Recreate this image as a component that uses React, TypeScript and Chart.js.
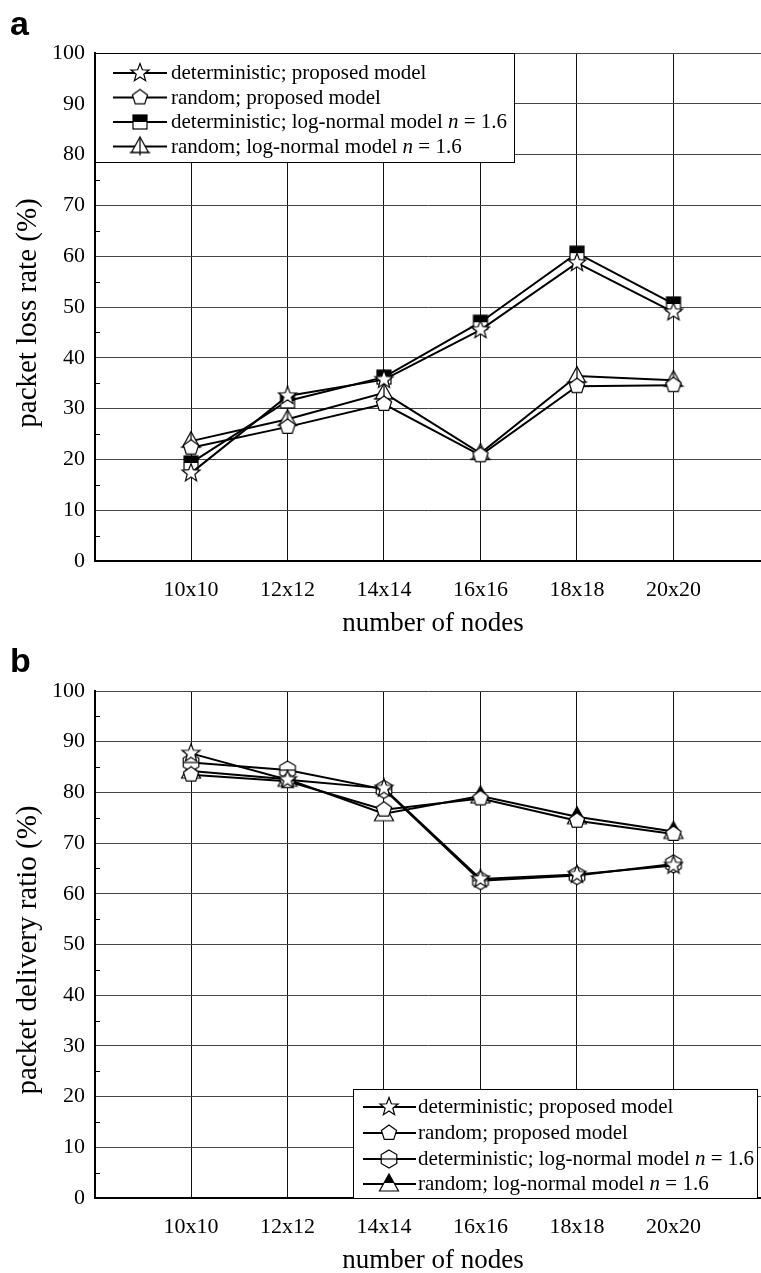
import React, { useEffect, useRef } from 'react';
import { Chart, registerables } from 'chart.js';

Chart.register(...registerables);

// ---------- data ----------
const categories = ['10x10', '12x12', '14x14', '16x16', '18x18', '20x20'];

// panel a: packet loss rate (%)
const lossDetProposed = [17.3, 32.5, 35.7, 45.5, 58.7, 49.0];
const lossRandProposed = [22.3, 26.4, 30.9, 20.8, 34.4, 34.6];
const lossDetLogNormal = [19.3, 31.5, 36.2, 47.0, 60.6, 50.6];
const lossRandLogNormal = [23.6, 27.9, 33.1, 21.2, 36.4, 35.6];

// panel b: packet delivery ratio (%)
const pdrDetProposed = [87.7, 82.5, 80.8, 62.9, 63.8, 65.6];
const pdrRandProposed = [83.5, 82.2, 76.6, 78.8, 74.4, 71.8];
const pdrDetLogNormal = [85.9, 84.4, 80.6, 62.6, 63.6, 65.9];
const pdrRandLogNormal = [84.2, 82.6, 75.8, 79.3, 75.2, 72.3];

const labelsA = [
  'deterministic; proposed model',
  'random; proposed model',
  'deterministic; log-normal model n = 1.6',
  'random; log-normal model n = 1.6',
];
const labelsB = [
  'deterministic; proposed model',
  'random; proposed model',
  'deterministic; log-normal model n = 1.6',
  'random; log-normal model n = 1.6',
];

const xTitle = 'number of nodes';
const yTitleA = 'packet loss rate (%)';
const yTitleB = 'packet delivery ratio (%)';

const SERIF = '"Liberation Serif", "Times New Roman", serif';

// ---------- markers ----------
type Draw = (ctx: CanvasRenderingContext2D) => void;
function mk(size: number, draw: Draw): HTMLCanvasElement {
  const c = document.createElement('canvas');
  c.width = size;
  c.height = size;
  const ctx = c.getContext('2d') as CanvasRenderingContext2D;
  ctx.translate(size / 2, size / 2);
  ctx.lineWidth = 1.2;
  ctx.strokeStyle = '#000';
  draw(ctx);
  return c;
}
function poly(ctx: CanvasRenderingContext2D, n: number, r: number, inner?: number) {
  ctx.beginPath();
  const count = inner ? n * 2 : n;
  for (let i = 0; i < count; i++) {
    const rr = inner ? (i % 2 ? inner : r) : r;
    const a = -Math.PI / 2 + (i * 2 * Math.PI) / count;
    const x = rr * Math.cos(a);
    const y = rr * Math.sin(a);
    if (i === 0) ctx.moveTo(x, y);
    else ctx.lineTo(x, y);
  }
  ctx.closePath();
}
function makeMarkers() {
  const star = mk(22, (ctx) => {
    poly(ctx, 5, 9.5, 4);
    ctx.fillStyle = '#fff';
    ctx.fill();
    ctx.stroke();
  });
  const pentagon = mk(22, (ctx) => {
    poly(ctx, 5, 8);
    ctx.fillStyle = '#fff';
    ctx.fill();
    ctx.stroke();
  });
  const halfSquare = mk(22, (ctx) => {
    ctx.fillStyle = '#fff';
    ctx.fillRect(-7, -7, 14, 14);
    ctx.fillStyle = '#000';
    ctx.fillRect(-7, -7, 14, 7);
    ctx.strokeRect(-7, -7, 14, 14);
  });
  const openTriangle = mk(24, (ctx) => {
    ctx.beginPath();
    ctx.moveTo(0, -9.5);
    ctx.lineTo(8.5, 6);
    ctx.lineTo(-8.5, 6);
    ctx.closePath();
    ctx.fillStyle = '#fff';
    ctx.fill();
    ctx.stroke();
    ctx.beginPath();
    ctx.moveTo(0, -9.5);
    ctx.lineTo(0, 9);
    ctx.moveTo(-10.5, 6);
    ctx.lineTo(10.5, 6);
    ctx.stroke();
  });
  const hexagon = mk(22, (ctx) => {
    poly(ctx, 6, 9);
    ctx.fillStyle = '#fff';
    ctx.fill();
    ctx.stroke();
    ctx.beginPath();
    ctx.moveTo(-7.8, 0);
    ctx.lineTo(7.8, 0);
    ctx.stroke();
  });
  const halfTriangle = mk(24, (ctx) => {
    ctx.beginPath();
    ctx.moveTo(0, -10);
    ctx.lineTo(9.5, 7);
    ctx.lineTo(-9.5, 7);
    ctx.closePath();
    ctx.fillStyle = '#fff';
    ctx.fill();
    ctx.save();
    ctx.clip();
    ctx.fillStyle = '#000';
    ctx.fillRect(-12, -12, 24, 11);
    ctx.restore();
    ctx.stroke();
  });
  return { star, pentagon, halfSquare, openTriangle, hexagon, halfTriangle };
}

// ---------- helpers ----------
function drawLabel(ctx: CanvasRenderingContext2D, text: string, x: number, y: number) {
  const normal = `21px ${SERIF}`;
  const italic = `italic 21px ${SERIF}`;
  ctx.textAlign = 'left';
  ctx.textBaseline = 'alphabetic';
  const idx = text.indexOf(' n = ');
  if (idx < 0) {
    ctx.font = normal;
    ctx.fillText(text, x, y);
    return;
  }
  const a = text.slice(0, idx + 1);
  const c = text.slice(idx + 2);
  ctx.font = normal;
  ctx.fillText(a, x, y);
  x += ctx.measureText(a).width;
  ctx.font = italic;
  ctx.fillText('n', x, y);
  x += ctx.measureText('n').width;
  ctx.font = normal;
  ctx.fillText(c, x, y);
}

interface LegendCfg {
  left: number;
  top: number;
  right: number;
  bottom: number;
  rows: number[];
  lineX1: number;
  lineX2: number;
  markerX: number;
  textX: number;
}

interface PanelCfg {
  height: number;
  plotTop: number;
  plotBottom: number;
  panel: string;
  yTitle: string;
  series: number[][];
  labels: string[];
  markers: HTMLCanvasElement[];
  legend: LegendCfg;
}

function Panel({ cfg }: { cfg: PanelCfg }) {
  const ref = useRef<HTMLCanvasElement | null>(null);
  useEffect(() => {
    const canvas = ref.current;
    if (!canvas) return;
    const lg = cfg.legend;
    const overlay = {
      id: 'overlay',
      afterDraw(chart: any) {
        const ctx: CanvasRenderingContext2D = chart.ctx;
        const { left } = chart.chartArea;
        const ys = chart.scales.y;
        ctx.save();
        // minor ticks on y axis
        ctx.strokeStyle = '#000';
        ctx.lineWidth = 1;
        for (let v = 5; v < 100; v += 10) {
          const py = Math.round(ys.getPixelForValue(v)) + 0.5;
          ctx.beginPath();
          ctx.moveTo(left, py);
          ctx.lineTo(left + 5, py);
          ctx.stroke();
        }
        // legend box
        ctx.fillStyle = '#fff';
        ctx.fillRect(lg.left, lg.top, lg.right - lg.left, lg.bottom - lg.top);
        ctx.strokeStyle = '#000';
        ctx.lineWidth = 1;
        ctx.strokeRect(lg.left + 0.5, lg.top + 0.5, lg.right - lg.left - 1, lg.bottom - lg.top - 1);
        ctx.fillStyle = '#000';
        cfg.labels.forEach((lab, i) => {
          const ry = lg.rows[i];
          ctx.beginPath();
          ctx.lineWidth = 2;
          ctx.moveTo(lg.lineX1, ry);
          ctx.lineTo(lg.lineX2, ry);
          ctx.stroke();
          const m = cfg.markers[i];
          ctx.drawImage(m, lg.markerX - m.width / 2, ry - m.height / 2);
          drawLabel(ctx, lab, lg.textX, ry + 6);
        });
        // axis titles
        ctx.fillStyle = '#000';
        ctx.font = `27px ${SERIF}`;
        ctx.textAlign = 'center';
        ctx.textBaseline = 'middle';
        ctx.fillText(xTitle, 433, 624);
        ctx.save();
        ctx.translate(28, 313);
        ctx.rotate(-Math.PI / 2);
        ctx.font = `29px ${SERIF}`;
        ctx.fillText(cfg.yTitle, 0, 0);
        ctx.restore();
        // panel label
        ctx.font = `bold 34px "Liberation Sans", Arial, sans-serif`;
        ctx.textAlign = 'left';
        ctx.textBaseline = 'alphabetic';
        ctx.fillText(cfg.panel, 10, 35);
        ctx.restore();
      },
    };

    const chart = new Chart(canvas, {
      type: 'line',
      data: {
        datasets: cfg.series.map((s, i) => ({
          label: cfg.labels[i],
          data: s.map((v, j) => ({ x: j, y: v })),
          borderColor: '#000',
          backgroundColor: '#fff',
          borderWidth: 2,
          pointStyle: cfg.markers[i] as any,
          pointRadius: 9,
          pointHoverRadius: 9,
          tension: 0,
          fill: false,
        })),
      },
      options: {
        responsive: false,
        animation: false,
        devicePixelRatio: 1,
        events: [],
        layout: { autoPadding: false, padding: { top: cfg.plotTop, left: 0, right: 0, bottom: 0 } },
        plugins: { legend: { display: false }, tooltip: { enabled: false } },
        scales: {
          x: {
            type: 'linear',
            min: -0.995,
            max: 5.907,
            afterBuildTicks: (scale: any) => {
              scale.ticks = categories.map((_, i) => ({ value: i }));
            },
            afterFit: (scale: any) => {
              scale.height = cfg.height - cfg.plotBottom;
              scale.paddingLeft = 0;
              scale.paddingRight = 0;
            },
            ticks: {
              color: '#000',
              font: { family: SERIF, size: 22 },
              padding: 16,
              maxRotation: 0,
              autoSkip: false,
              callback: (v: any) => categories[v as number] ?? '',
            },
            grid: { color: '#111', lineWidth: 1, drawTicks: false },
            border: { display: true, color: '#000', width: 2 },
          },
          y: {
            type: 'linear',
            min: 0,
            max: 100,
            afterFit: (scale: any) => {
              scale.width = 95;
              scale.paddingTop = 0;
              scale.paddingBottom = 0;
            },
            ticks: {
              stepSize: 10,
              color: '#000',
              font: { family: SERIF, size: 22 },
              padding: 10,
            },
            grid: { color: '#444', lineWidth: 1, drawTicks: false },
            border: { display: true, color: '#000', width: 2 },
          },
        },
      },
      plugins: [overlay],
    });
    return () => chart.destroy();
  }, [cfg]);
  return <canvas ref={ref} width={761} height={cfg.height} style={{ display: 'block' }} />;
}

const markers = makeMarkers();

const cfgA: PanelCfg = {
  height: 637,
  plotTop: 53,
  plotBottom: 561,
  panel: 'a',
  yTitle: yTitleA,
  series: [lossDetProposed, lossRandProposed, lossDetLogNormal, lossRandLogNormal],
  labels: labelsA,
  markers: [markers.star, markers.pentagon, markers.halfSquare, markers.openTriangle],
  legend: {
    left: 95,
    top: 53,
    right: 515,
    bottom: 163,
    rows: [73, 97.5, 122, 146.5],
    lineX1: 113,
    lineX2: 167,
    markerX: 140,
    textX: 171,
  },
};

const cfgB: PanelCfg = {
  height: 636,
  plotTop: 54,
  plotBottom: 561,
  panel: 'b',
  yTitle: yTitleB,
  series: [pdrDetProposed, pdrRandProposed, pdrDetLogNormal, pdrRandLogNormal],
  labels: labelsB,
  markers: [markers.star, markers.pentagon, markers.hexagon, markers.halfTriangle],
  legend: {
    left: 353,
    top: 452,
    right: 758,
    bottom: 562,
    rows: [470, 496, 522, 547],
    lineX1: 363,
    lineX2: 416,
    markerX: 389,
    textX: 418,
  },
};

export default function App() {
  return (
    <div style={{ position: 'absolute', left: 0, top: 0, width: 761, height: 1273, background: '#fff', overflow: 'hidden' }}>
      <Panel cfg={cfgA} />
      <Panel cfg={cfgB} />
    </div>
  );
}
